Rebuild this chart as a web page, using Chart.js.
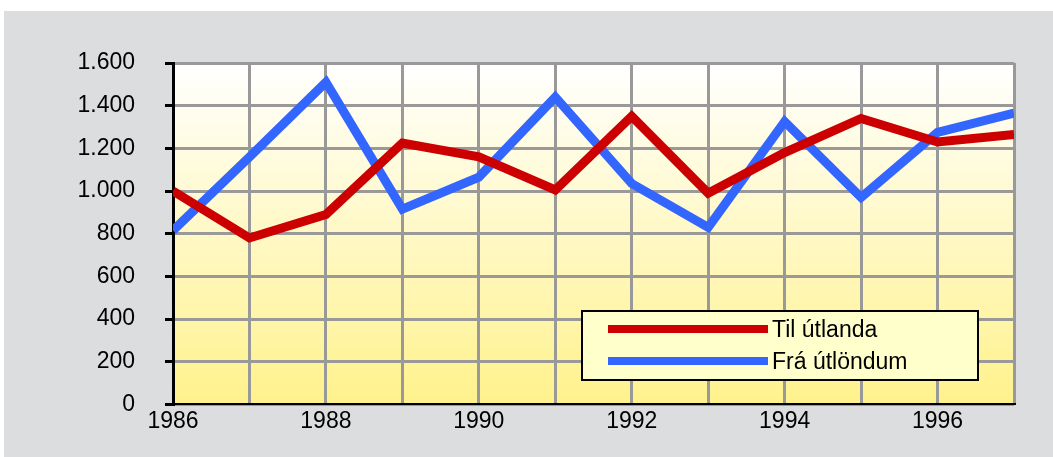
<!DOCTYPE html>
<html>
<head>
<meta charset="utf-8"/>
<title>Til útlanda / Frá útlöndum</title>
<script src="https://cdn.jsdelivr.net/npm/chart.js@4.4.1/dist/chart.umd.min.js"></script>
<style>
  html, body { margin: 0; padding: 0; background: #ffffff; }
  #wrap { width: 1053px; height: 457px; position: relative; }
</style>
</head>
<body>
<div id="wrap"><canvas id="myChart" width="1053" height="457"></canvas></div>
<script>
// data
const years = [1986, 1987, 1988, 1989, 1990, 1991, 1992, 1993, 1994, 1995, 1996, 1997];
const tilUtlanda = [1000, 780, 890, 1225, 1160, 1005, 1350, 990, 1180, 1340, 1230, 1265];
const fraUtlondum = [815, 1160, 1510, 915, 1065, 1440, 1035, 830, 1325, 970, 1275, 1365];
const seriesNames = ['Til útlanda', 'Frá útlöndum'];
const seriesColors = ['#cc0000', '#3366ff'];

const font = '"Liberation Sans", Arial, sans-serif';

// gray panel behind everything, gradient plot area
const backdrop = {
  id: 'backdrop',
  beforeDraw(chart) {
    const c = chart.ctx, a = chart.chartArea;
    c.save();
    c.fillStyle = '#dcdddf';
    c.fillRect(4, 11, chart.width - 4, chart.height - 11);
    const g = c.createLinearGradient(0, a.top, 0, a.bottom);
    g.addColorStop(0, '#ffffff');
    g.addColorStop(1, '#fff28c');
    c.fillStyle = g;
    c.fillRect(a.left, a.top, a.right - a.left, a.bottom - a.top);
    c.restore();
  }
};

// boxed legend inside the plot
const boxLegend = {
  id: 'boxLegend',
  afterDraw(chart) {
    const c = chart.ctx;
    const x = 582, y = 311, w = 396, h = 69;
    c.save();
    c.fillStyle = '#ffffcc';
    c.fillRect(x, y, w, h);
    c.strokeStyle = '#000';
    c.lineWidth = 2;
    c.strokeRect(x, y, w, h);
    c.font = '23px ' + font;
    c.textBaseline = 'middle';
    chart.data.datasets.forEach((ds, i) => {
      const ly = y + 18 + i * 32;
      c.strokeStyle = ds.borderColor;
      c.lineWidth = 8;
      c.beginPath();
      c.moveTo(608, ly);
      c.lineTo(768, ly);
      c.stroke();
      c.fillStyle = '#000';
      c.fillText(ds.label, 772, ly + 2);
    });
    c.restore();
  }
};

new Chart(document.getElementById('myChart'), {
  type: 'line',
  data: {
    datasets: [
      {
        label: seriesNames[0],
        data: years.map((yr, i) => ({ x: yr, y: tilUtlanda[i] })),
        borderColor: seriesColors[0],
        borderWidth: 9,
        pointRadius: 0,
        tension: 0,
        borderJoinStyle: 'miter',
        borderCapStyle: 'butt'
      },
      {
        label: seriesNames[1],
        data: years.map((yr, i) => ({ x: yr, y: fraUtlondum[i] })),
        borderColor: seriesColors[1],
        borderWidth: 9,
        pointRadius: 0,
        tension: 0,
        borderJoinStyle: 'miter',
        borderCapStyle: 'butt'
      }
    ]
  },
  options: {
    responsive: false,
    animation: false,
    layout: { padding: { left: 0, right: 39, top: 63, bottom: 19 } },
    plugins: { legend: { display: false }, tooltip: { enabled: false } },
    scales: {
      x: {
        type: 'linear',
        min: years[0],
        max: years[years.length - 1],
        ticks: {
          stepSize: 1,
          autoSkip: false,
          maxRotation: 0,
          padding: 3,
          color: '#000',
          font: { family: font, size: 23 },
          callback: v => (v % 2 === 0 ? String(v) : '')
        },
        grid: { color: '#999999', lineWidth: 3, drawTicks: false },
        border: { color: '#000', width: 2 }
      },
      y: {
        min: 0,
        max: 1600,
        afterFit(scale) { scale.width = 173; },
        ticks: {
          stepSize: 200,
          padding: 30,
          color: '#000',
          font: { family: font, size: 23 },
          callback: v => v.toLocaleString('de-DE')
        },
        grid: { color: '#999999', lineWidth: 3, tickLength: 8, tickColor: '#000', tickWidth: 3 },
        border: { color: '#000', width: 3 }
      }
    }
  },
  plugins: [backdrop, boxLegend]
});
</script>
</body>
</html>
